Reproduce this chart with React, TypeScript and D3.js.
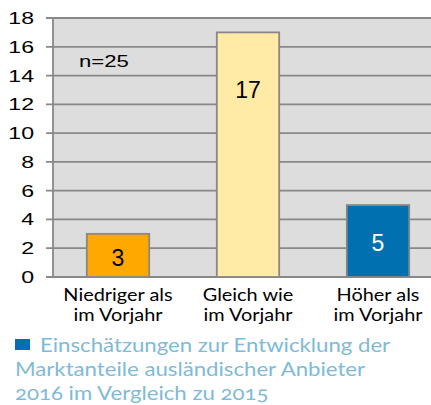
import React from 'react';
import * as d3 from 'd3';

const categories = ['Niedriger als|im Vorjahr', 'Gleich wie|im Vorjahr', 'Höher als|im Vorjahr'];
const counts = [3, 17, 5];
const barColors = ['#FFA800', '#FFEAA6', '#0070B0'];
const labelColors = ['#000', '#000', '#fff'];
const yTicks = [0, 2, 4, 6, 8, 10, 12, 14, 16, 18];
const note = 'n=25';
const legendLines = [
  'Einschätzungen zur Entwicklung der',
  'Marktanteile ausländischer Anbieter',
  '2016 im Vergleich zu 2015'
];

export default function App() {
  const width = 431, height = 405;
  const margin = { top: 18, left: 53, right: -12, bottom: 128 };
  const plotW = width - margin.left - margin.right;
  const plotH = height - margin.top - margin.bottom;

  const x = d3.scaleBand().domain(categories).range([0, plotW]).paddingInner(0.52).paddingOuter(0.26);
  const y = d3.scaleLinear().domain([0, 18]).range([plotH, 0]);

  const sans = 'Liberation Sans, Arial, sans-serif';
  const soft = 'Lato, Open Sans, sans-serif';

  return (
    <div style={{ position: 'absolute', left: 0, top: 0 }}>
      <svg width={width} height={height} style={{ display: 'block' }}>
        <rect width={width} height={height} fill="#fff" />
        <g transform={`translate(${margin.left},${margin.top})`}>
          <rect x={0} y={0} width={plotW} height={plotH} fill="#DDDDDD" />
          {yTicks.map(t => (
            <g key={t}>
              <line x1={-7} x2={plotW} y1={y(t)} y2={y(t)} stroke="#888" strokeWidth={1.8} />
              <text transform={`translate(-19,${y(t)}) scale(1.4,1)`} dy="0.36em" textAnchor="end"
                fontFamily={sans} fontSize={16.5} fill="#000">{t}</text>
            </g>
          ))}
          <line x1={0} x2={0} y1={0} y2={plotH} stroke="#888" strokeWidth={1.8} />
          <text transform={`translate(26,${y(14.6)}) scale(1.38,1)`} fontFamily={sans} fontSize={16} fill="#000">{note}</text>
          {categories.map((c, i) => {
            const bx = x(c) as number;
            const cx = bx + x.bandwidth() / 2;
            const ly = i === 1 ? y(counts[i]) + 57 : (y(counts[i]) + plotH) / 2 + 2;
            return (
              <g key={c}>
                <rect x={bx} y={y(counts[i])} width={x.bandwidth()} height={plotH - y(counts[i])}
                  fill={barColors[i]} stroke="#888" strokeWidth={1.8} />
                <text x={cx} y={ly} dy="0.36em"
                  textAnchor="middle" fontFamily={sans} fontSize={23} fill={labelColors[i]}>{counts[i]}</text>
                {c.split('|').map((ln, k) => (
                  <text key={k} transform={`translate(${cx},${plotH + 24 + k * 20}) scale(1.17,1)`}
                    textAnchor="middle" fontFamily={soft} fontSize={17} fill="#000">{ln}</text>
                ))}
              </g>
            );
          })}
        </g>
        <rect x={15} y={339} width={15} height={11} fill="#0070B0" />
        {legendLines.map((ln, k) => (
          <text key={k} transform={`translate(${k === 0 ? 40 : 15},${352 + k * 24}) scale(1.2,1)`}
            fontFamily={soft} fontSize={18.5} fill="#7DBBD8"
            style={{ fontVariantNumeric: 'oldstyle-nums' }}>{ln}</text>
        ))}
      </svg>
    </div>
  );
}
